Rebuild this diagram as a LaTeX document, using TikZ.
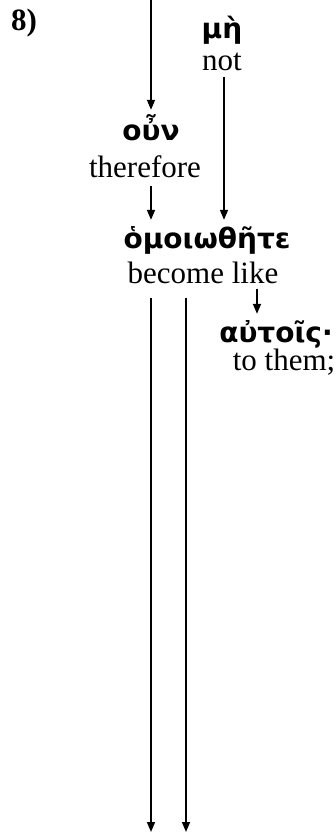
\documentclass[tikz,border=0pt]{standalone}
\usepackage{fontspec}
\setmainfont{Liberation Serif}
\newfontfamily\grk{DejaVu Sans}
\usetikzlibrary{arrows.meta, positioning}

\begin{document}
\begin{tikzpicture}[
    x=1pt, y=-1pt,
    yunani/.style={inner sep=0pt, anchor=base, font=\grk\bfseries\fontsize{28}{30}\selectfont},
    arti/.style={inner sep=0pt, anchor=base, font=\fontsize{31}{34}\selectfont},
    panah/.style={-{Triangle[length=10pt, width=8pt]}, line width=1.5pt}
  ]
    \useasboundingbox (0,0) rectangle (336,833);
    \node[arti, font=\fontsize{31}{34}\selectfont\bfseries] (nomor) at (24,30) {8)};
    % kata-kata
    \node[yunani] (me) at (222,38) {μὴ};
    \node[arti] (me-en) at (222,70) {not};
    \node[yunani] (oun) at (151,140) {οὖν};
    \node[arti] (oun-en) at (145,177) {therefore};
    \node[yunani] (homoi) at (207,248) {ὁμοιωθῆτε};
    \node[arti] (homoi-en) at (203,283) {become like};
    \node[yunani] (autois) at (276,342) {αὐτοῖς·};
    \node[arti] (autois-en) at (284,370) {to them;};
    % ujung bebas
    \coordinate (awal) at (151,0);
    \coordinate (akhir1) at (151,832);
    \coordinate (akhir2) at (186,832);
    % panah
    \draw[panah] (awal) -- ([yshift=4pt]awal |- oun.north);
    \draw[panah] ([xshift=2pt,yshift=-6pt]me-en.south) -- ([xshift=2pt,yshift=6pt]me-en.south |- homoi.north);
    \draw[panah] ([yshift=-8pt]oun.south |- oun-en.south) -- ([yshift=6pt]oun.south |- homoi.north);
    \draw[panah] ([xshift=54pt,yshift=-5pt]homoi-en.south) -- ([xshift=54pt,yshift=6pt]homoi-en.south |- autois.north);
    \draw[panah] ([yshift=-14pt]homoi-en.south -| akhir1) -- (akhir1);
    \draw[panah] ([yshift=-14pt]homoi-en.south -| akhir2) -- (akhir2);
\end{tikzpicture}
\end{document}
